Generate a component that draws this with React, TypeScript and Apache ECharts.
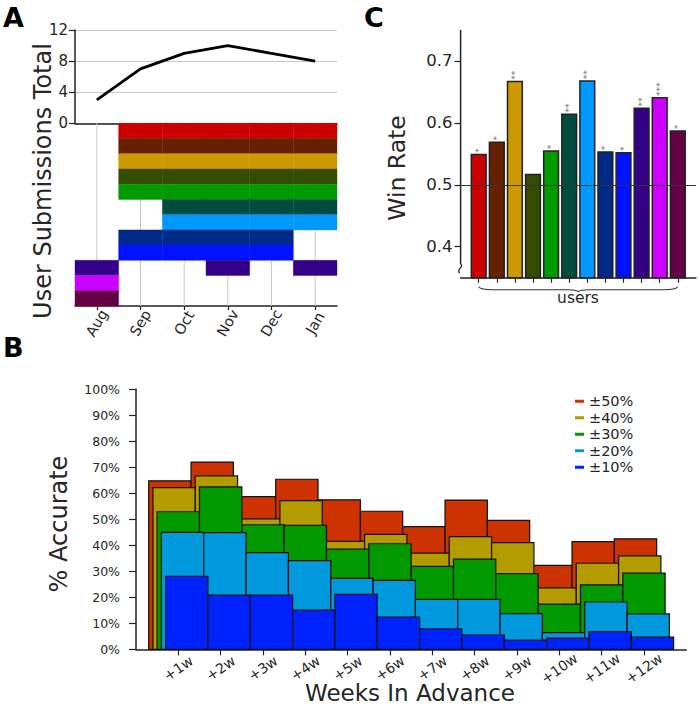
import React, { useEffect, useRef } from "react";
import * as echarts from "echarts";

const FONT = '"DejaVu Sans", sans-serif';
const INK = "#262626";
const AXIS = "#222222";

// ---------- Panel A ----------
const months = ["Aug", "Sep", "Oct", "Nov", "Dec", "Jan"];
const monthlyTotals = [3, 7, 9, 10, 9, 8];
const userIds = ["u1", "u2", "u3", "u4", "u5", "u6", "u7", "u8", "u9", "u10", "u11", "u12"];
const userColors = [
  "#cc0000", "#662200", "#cc9900", "#334d00", "#009900", "#004d40",
  "#0099ff", "#002a88", "#0011ff", "#330088", "#cc00ff", "#660044",
];
// 1 = user submitted in that month (Aug..Jan)
const userActivity = [
  [0, 1, 1, 1, 1, 1],
  [0, 1, 1, 1, 1, 1],
  [0, 1, 1, 1, 1, 1],
  [0, 1, 1, 1, 1, 1],
  [0, 1, 1, 1, 1, 1],
  [0, 0, 1, 1, 1, 1],
  [0, 0, 1, 1, 1, 1],
  [0, 1, 1, 1, 1, 0],
  [0, 1, 1, 1, 1, 0],
  [1, 0, 0, 1, 0, 1],
  [1, 0, 0, 0, 0, 0],
  [1, 0, 0, 0, 0, 0],
];

// ---------- Panel C ----------
const winRates = [0.55, 0.57, 0.668, 0.518, 0.556, 0.615, 0.669, 0.554, 0.553, 0.625, 0.642, 0.588];
const significance = ["*", "*", "**", "", "*", "**", "**", "*", "*", "**", "***", "*"];
const winTicks = [0.4, 0.5, 0.6, 0.7];

// ---------- Panel B ----------
const weeks = [1, 2, 3, 4, 5, 6, 7, 8, 9, 10, 11, 12];
const accuracyLevels = ["±50%", "±40%", "±30%", "±20%", "±10%"];
const accuracyColors = ["#cc3300", "#b39b00", "#009900", "#0099dd", "#0022ff"];
const accuracy50 = [64.8, 72.0, 58.7, 65.4, 57.5, 53.1, 47.2, 57.4, 49.6, 32.3, 41.4, 42.5];
const accuracy40 = [62.2, 66.7, 50.2, 57.2, 41.5, 44.2, 37.0, 43.3, 41.0, 23.6, 33.1, 35.9];
const accuracy30 = [52.9, 62.5, 47.9, 47.7, 38.5, 40.6, 31.9, 34.7, 29.1, 17.4, 24.8, 29.3];
const accuracy20 = [45.0, 44.9, 37.2, 34.1, 27.3, 26.5, 19.2, 19.2, 13.7, 6.4, 18.2, 13.6];
const accuracy10 = [28.1, 20.8, 20.8, 15.1, 21.1, 12.4, 7.9, 5.5, 3.5, 4.3, 6.8, 4.7];
const accuracyValues = [accuracy50, accuracy40, accuracy30, accuracy20, accuracy10];

function buildOption(): any {
  const heatCells: number[][] = [];
  userActivity.forEach((row, u) =>
    row.forEach((on, m) => {
      if (on) heatCells.push([m, u]);
    })
  );

  const axisLine = { show: true, lineStyle: { color: AXIS, width: 1.5 } };
  const tickStyle = { color: AXIS, width: 1.2 };

  const layerSeries = accuracyValues.map((vals, k) => {
    const offset = (k - 2) * 0.1;
    return {
      type: "custom",
      name: accuracyLevels[k],
      xAxisIndex: 3,
      yAxisIndex: 3,
      z: 2 + k,
      clip: false,
      itemStyle: { color: accuracyColors[k] },
      data: vals.map((v, i) => [weeks[i], v]),
      renderItem: (params: any, api: any) => {
        const x = api.value(0);
        const v = api.value(1);
        const p0 = api.coord([x + offset - 0.5, 0]);
        const p1 = api.coord([x + offset + 0.5, v]);
        return {
          type: "rect",
          shape: { x: p0[0], y: p1[1], width: p1[0] - p0[0], height: p0[1] - p1[1] },
          style: { fill: accuracyColors[k], stroke: "#111", lineWidth: 1.2 },
        };
      },
    };
  });

  const centered = (extra: any) => ({
    align: "center",
    verticalAlign: "middle",
    textAlign: "center",
    textVerticalAlign: "middle",
    ...extra,
  });

  return {
    animation: false,
    backgroundColor: "#ffffff",
    textStyle: { fontFamily: FONT, color: INK },
    grid: [
      { left: 75, top: 30, width: 262, height: 93.3, containLabel: false, outerBoundsMode: "none" },
      { left: 75, top: 123.3, width: 262, height: 182.7, containLabel: false, outerBoundsMode: "none" },
      { left: 460.6, top: 30, width: 235.3, height: 247.7, containLabel: false, outerBoundsMode: "none" },
      { left: 136, top: 389.3, width: 550.3, height: 260, containLabel: false, outerBoundsMode: "none" },
    ],
    legend: {
      data: accuracyLevels.map((n) => ({ name: n, icon: "rect" })),
      orient: "vertical",
      left: 570,
      top: 388,
      itemWidth: 9,
      itemHeight: 3,
      itemGap: 0,
      selectedMode: false,
      textStyle: { fontFamily: FONT, fontSize: 14.5, lineHeight: 16.5, color: INK },
    },
    xAxis: [
      {
        gridIndex: 0,
        type: "category",
        data: months,
        boundaryGap: true,
        axisLine,
        axisTick: { show: false },
        axisLabel: { show: false },
        splitLine: { show: false },
      },
      {
        gridIndex: 1,
        type: "category",
        data: months,
        boundaryGap: true,
        axisLine,
        axisTick: { show: true, alignWithLabel: true, length: 4, lineStyle: tickStyle },
        axisLabel: {
          rotate: 60,
          align: "center",
          verticalAlign: "middle",
          margin: 17,
          fontSize: 14.5,
          color: INK,
          fontFamily: FONT,
        },
        splitLine: { show: false },
      },
      {
        gridIndex: 2,
        type: "value",
        min: 0,
        max: 13,
        axisLine,
        axisTick: { show: true, customValues: weeks, length: 5, lineStyle: tickStyle },
        axisLabel: { show: false },
        splitLine: { show: false },
      },
      {
        gridIndex: 3,
        type: "value",
        min: 0,
        max: 13,
        axisLine,
        axisTick: { show: true, customValues: weeks, length: 6, lineStyle: tickStyle },
        axisLabel: {
          customValues: weeks,
          formatter: (v: number) => "+" + v + "w",
          rotate: 35,
          align: "center",
          verticalAlign: "middle",
          margin: 19,
          fontSize: 14,
          color: INK,
          fontFamily: FONT,
        },
        splitLine: { show: false },
      },
    ],
    yAxis: [
      {
        gridIndex: 0,
        type: "value",
        min: 0,
        max: 12,
        interval: 4,
        axisLine,
        axisTick: { show: true, length: 6, lineStyle: tickStyle },
        axisLabel: { fontSize: 15, margin: 7, color: INK, fontFamily: FONT },
        splitLine: { show: true, lineStyle: { color: "#c8c8c8", width: 1 } },
      },
      {
        gridIndex: 1,
        type: "category",
        data: userIds,
        inverse: true,
        axisLine: { show: false },
        axisTick: { show: false },
        axisLabel: { show: false },
        splitLine: { show: false },
      },
      {
        gridIndex: 2,
        type: "value",
        min: 0.35,
        max: 0.75,
        axisLine: { show: false },
        axisTick: { show: true, customValues: winTicks, length: 6, lineStyle: tickStyle },
        axisLabel: { customValues: winTicks, fontSize: 16.5, margin: 8, color: INK, fontFamily: FONT },
        splitLine: { show: false },
      },
      {
        gridIndex: 3,
        type: "value",
        min: 0,
        max: 100,
        interval: 10,
        axisLine,
        axisTick: { show: true, length: 7, lineStyle: tickStyle },
        axisLabel: { formatter: "{value}%", fontSize: 12.5, margin: 16, color: INK, fontFamily: FONT },
        splitLine: { show: false },
      },
    ],
    series: [
      {
        type: "line",
        xAxisIndex: 0,
        yAxisIndex: 0,
        data: monthlyTotals,
        showSymbol: false,
        symbol: "none",
        lineStyle: { color: "#000", width: 2.8 },
        z: 3,
      },
      {
        type: "custom",
        xAxisIndex: 1,
        yAxisIndex: 1,
        z: 1,
        silent: true,
        data: months.map((_, i) => [i, 0]),
        renderItem: (params: any, api: any) => {
          const c = api.coord([api.value(0), 0]);
          const cs = params.coordSys;
          return {
            type: "line",
            shape: { x1: c[0], y1: cs.y, x2: c[0], y2: cs.y + cs.height },
            style: { stroke: "#c8c8c8", lineWidth: 1 },
          };
        },
      },
      {
        type: "custom",
        xAxisIndex: 1,
        yAxisIndex: 1,
        z: 2,
        data: heatCells,
        renderItem: (params: any, api: any) => {
          const m = api.value(0);
          const u = api.value(1);
          const c = api.coord([m, u]);
          const s = api.size([1, 1]);
          const col = userColors[u];
          return {
            type: "rect",
            shape: { x: c[0] - s[0] / 2, y: c[1] - s[1] / 2, width: s[0], height: s[1] },
            style: { fill: col, stroke: col, lineWidth: 0.4 },
          };
        },
      },
      {
        type: "bar",
        xAxisIndex: 2,
        yAxisIndex: 2,
        barWidth: 16.3,
        z: 2,
        data: winRates.map((v, i) => ({
          value: [i + 1, v],
          itemStyle: { color: userColors[i], borderColor: "#222", borderWidth: 1.5 },
        })),
        label: {
          show: true,
          position: "top",
          distance: 1,
          rotate: 90,
          align: "left",
          verticalAlign: "middle",
          fontSize: 9,
          color: "#777",
          fontFamily: FONT,
          formatter: (p: any) => significance[p.dataIndex],
        },
        markLine: {
          silent: true,
          symbol: ["none", "none"],
          label: { show: false },
          lineStyle: { color: "#333", width: 1, type: "solid" },
          data: [{ yAxis: 0.5 }],
        },
      },
      {
        type: "custom",
        xAxisIndex: 2,
        yAxisIndex: 2,
        z: 3,
        clip: false,
        silent: true,
        data: [[0, 0.35]],
        renderItem: (params: any, api: any) => {
          const top = api.coord([0, 0.75]);
          const brk = api.coord([0, 0.372]);
          const x0 = top[0];
          const l = api.coord([1, 0.35]);
          const r = api.coord([12, 0.35]);
          const y0 = l[1] + 9;
          const xm = (l[0] + r[0]) / 2;
          const by = brk[1];
          const brace =
            `M${l[0]},${y0} Q${l[0] + 2},${y0 + 3} ${l[0] + 14},${y0 + 3} ` +
            `L${xm - 10},${y0 + 3} Q${xm - 2},${y0 + 3} ${xm},${y0 + 5} ` +
            `Q${xm + 2},${y0 + 3} ${xm + 10},${y0 + 3} ` +
            `L${r[0] - 14},${y0 + 3} Q${r[0] - 2},${y0 + 3} ${r[0]},${y0}`;
          const squiggle =
            `M${x0},${by} C${x0 + 4},${by + 3} ${x0 - 5},${by + 5} ${x0 - 1},${by + 9}`;
          return {
            type: "group",
            children: [
              {
                type: "line",
                shape: { x1: x0, y1: top[1], x2: x0, y2: by },
                style: { stroke: AXIS, lineWidth: 1.5 },
              },
              {
                type: "path",
                shape: { pathData: squiggle },
                style: { stroke: AXIS, fill: "none", lineWidth: 1.3 },
              },
              {
                type: "path",
                shape: { pathData: brace },
                style: { stroke: "#333", fill: "none", lineWidth: 1.1 },
              },
            ],
          };
        },
      },
      ...layerSeries,
    ],
    graphic: [
      {
        type: "text",
        x: 3,
        y: 17.5,
        style: { text: "A", font: `bold 27px ${FONT}`, fill: "#000", align: "left", verticalAlign: "middle", textAlign: "left", textVerticalAlign: "middle" },
      },
      {
        type: "text",
        x: 364,
        y: 17.5,
        style: { text: "C", font: `bold 27px ${FONT}`, fill: "#000", align: "left", verticalAlign: "middle", textAlign: "left", textVerticalAlign: "middle" },
      },
      {
        type: "text",
        x: 3,
        y: 347,
        style: { text: "B", font: `bold 27px ${FONT}`, fill: "#000", align: "left", verticalAlign: "middle", textAlign: "left", textVerticalAlign: "middle" },
      },
      {
        type: "text",
        x: 43,
        y: 181,
        rotation: Math.PI / 2,
        style: centered({ text: "User Submissions Total", font: `24px ${FONT}`, fill: INK }),
      },
      {
        type: "text",
        x: 397,
        y: 168,
        rotation: Math.PI / 2,
        style: centered({ text: "Win Rate", font: `23.5px ${FONT}`, fill: INK }),
      },
      {
        type: "text",
        x: 59,
        y: 524,
        rotation: Math.PI / 2,
        style: centered({ text: "% Accurate", font: `24px ${FONT}`, fill: INK }),
      },
      {
        type: "text",
        x: 410,
        y: 693,
        style: centered({ text: "Weeks In Advance", font: `23px ${FONT}`, fill: INK }),
      },
      {
        type: "text",
        x: 578,
        y: 298,
        style: centered({ text: "users", font: `15.5px ${FONT}`, fill: INK }),
      },
    ],
  };
}

export default function App() {
  const ref = useRef<HTMLDivElement>(null);
  useEffect(() => {
    if (!ref.current) return;
    const chart = echarts.init(ref.current, null, { renderer: "svg" });
    chart.setOption(buildOption());
    return () => chart.dispose();
  }, []);
  return (
    <div
      ref={ref}
      style={{ position: "fixed", left: 0, top: 0, width: 700, height: 706, background: "#fff" }}
    />
  );
}
